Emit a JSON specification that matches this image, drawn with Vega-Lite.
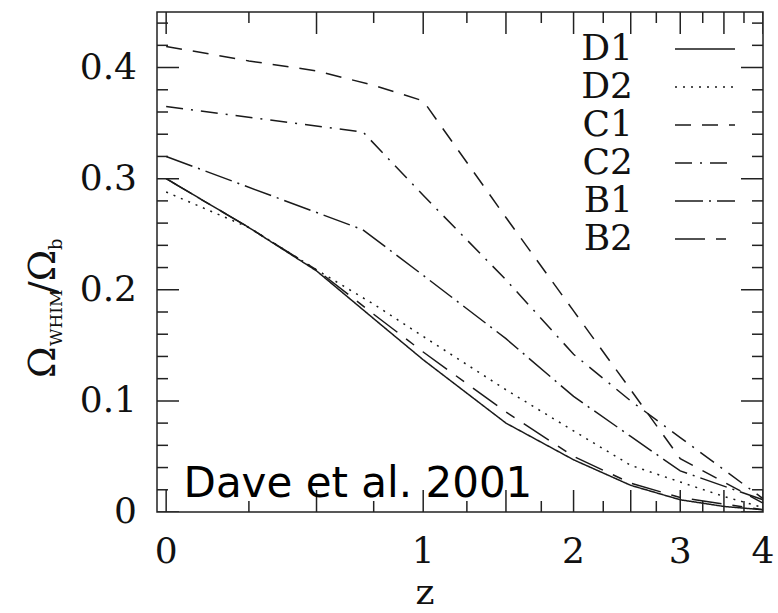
{
  "$schema": "https://vega.github.io/schema/vega-lite/v6.json",
  "width": 606,
  "height": 500,
  "autosize": {"type": "none"},
  "padding": {"left": 157, "top": 12, "right": 15, "bottom": 101},
  "background": "white",
  "config": {
    "view": {"stroke": "#222", "strokeWidth": 1.5}
  },
  "datasets": {
    "xmajor": [{"t": 0}, {"t": 0.5}, {"t": 1}, {"t": 1.5}, {"t": 2}, {"t": 2.5}, {"t": 3}, {"t": 3.5}, {"t": 4}],
    "xminor": [{"t": 0.25}, {"t": 0.75}, {"t": 1.25}, {"t": 1.75}, {"t": 2.25}, {"t": 2.75}, {"t": 3.25}, {"t": 3.75}],
    "ymajor": [{"t": 0}, {"t": 0.1}, {"t": 0.2}, {"t": 0.3}, {"t": 0.4}],
    "yminor": [{"t": 0.02}, {"t": 0.04}, {"t": 0.06}, {"t": 0.08}, {"t": 0.12}, {"t": 0.14}, {"t": 0.16}, {"t": 0.18},
               {"t": 0.22}, {"t": 0.24}, {"t": 0.26}, {"t": 0.28}, {"t": 0.32}, {"t": 0.34}, {"t": 0.36}, {"t": 0.38},
               {"t": 0.42}, {"t": 0.44}]
  },
  "data": {
    "values": [
      {"model": "D1", "z": 0, "f": 0.300}, {"model": "D1", "z": 0.25, "f": 0.256}, {"model": "D1", "z": 0.5, "f": 0.217},
      {"model": "D1", "z": 0.75, "f": 0.174}, {"model": "D1", "z": 1, "f": 0.137}, {"model": "D1", "z": 1.5, "f": 0.080},
      {"model": "D1", "z": 2, "f": 0.047}, {"model": "D1", "z": 2.5, "f": 0.024}, {"model": "D1", "z": 3, "f": 0.011},
      {"model": "D1", "z": 3.5, "f": 0.005}, {"model": "D1", "z": 4, "f": 0.002},
      {"model": "D2", "z": 0, "f": 0.288}, {"model": "D2", "z": 0.25, "f": 0.256}, {"model": "D2", "z": 0.5, "f": 0.218},
      {"model": "D2", "z": 0.75, "f": 0.187}, {"model": "D2", "z": 1, "f": 0.158}, {"model": "D2", "z": 1.5, "f": 0.110},
      {"model": "D2", "z": 2, "f": 0.073}, {"model": "D2", "z": 2.5, "f": 0.042}, {"model": "D2", "z": 3, "f": 0.027},
      {"model": "D2", "z": 3.5, "f": 0.014}, {"model": "D2", "z": 4, "f": 0.004},
      {"model": "C1", "z": 0, "f": 0.419}, {"model": "C1", "z": 0.25, "f": 0.406}, {"model": "C1", "z": 0.5, "f": 0.397},
      {"model": "C1", "z": 0.75, "f": 0.384}, {"model": "C1", "z": 1, "f": 0.370}, {"model": "C1", "z": 1.5, "f": 0.265},
      {"model": "C1", "z": 2, "f": 0.181}, {"model": "C1", "z": 2.5, "f": 0.110}, {"model": "C1", "z": 3, "f": 0.048},
      {"model": "C1", "z": 4, "f": 0.008},
      {"model": "C2", "z": 0, "f": 0.365}, {"model": "C2", "z": 0.7, "f": 0.342}, {"model": "C2", "z": 1, "f": 0.285},
      {"model": "C2", "z": 1.5, "f": 0.209}, {"model": "C2", "z": 2, "f": 0.142}, {"model": "C2", "z": 2.5, "f": 0.100},
      {"model": "C2", "z": 3, "f": 0.067}, {"model": "C2", "z": 4, "f": 0.012},
      {"model": "B1", "z": 0, "f": 0.320}, {"model": "B1", "z": 0.7, "f": 0.254}, {"model": "B1", "z": 1, "f": 0.213},
      {"model": "B1", "z": 1.5, "f": 0.156}, {"model": "B1", "z": 2, "f": 0.104}, {"model": "B1", "z": 2.5, "f": 0.068},
      {"model": "B1", "z": 3, "f": 0.037}, {"model": "B1", "z": 4, "f": 0.011},
      {"model": "B2", "z": 0, "f": 0.300}, {"model": "B2", "z": 0.25, "f": 0.256}, {"model": "B2", "z": 0.5, "f": 0.218},
      {"model": "B2", "z": 0.75, "f": 0.178}, {"model": "B2", "z": 1, "f": 0.144}, {"model": "B2", "z": 1.5, "f": 0.090},
      {"model": "B2", "z": 2, "f": 0.050}, {"model": "B2", "z": 2.5, "f": 0.026}, {"model": "B2", "z": 3, "f": 0.013},
      {"model": "B2", "z": 4, "f": 0.002}
    ]
  },
  "layer": [
    {
      "mark": {"type": "line", "stroke": "#1a1a1a", "strokeWidth": 1.5},
      "encoding": {
        "x": {
          "field": "z", "type": "quantitative", "axis": null,
          "scale": {"type": "symlog", "constant": 1, "domain": [-0.025, 4], "nice": false, "zero": false}
        },
        "y": {
          "field": "f", "type": "quantitative", "axis": null,
          "scale": {"domain": [0, 0.45], "nice": false, "zero": false}
        },
        "strokeDash": {
          "field": "model", "type": "nominal",
          "scale": {
            "domain": ["D1", "D2", "C1", "C2", "B1", "B2"],
            "range": [[1, 0], [2, 6], [16, 11], [17, 8, 2, 8], [28, 6, 2, 6], [30, 11, 10, 11]]
          },
          "legend": {
            "orient": "none", "legendX": 530, "legendY": 19, "title": null,
            "symbolType": "M -5 0 L 5 0", "symbolSize": 144, "symbolStrokeWidth": 1.5,
            "symbolStrokeColor": "#1a1a1a", "symbolFillColor": "transparent", "symbolOpacity": 1,
            "rowPadding": 2,
            "labelFont": "DejaVu Serif", "labelFontSize": 36, "labelColor": "#111",
            "labelAlign": "right", "labelOffset": -90
          }
        }
      }
    },
    {
      "data": {"name": "xmajor"},
      "mark": {"type": "tick", "orient": "vertical", "size": 44, "thickness": 1.5, "color": "#222", "opacity": 1, "clip": true},
      "encoding": {
        "x": {"field": "t", "type": "quantitative", "axis": null, "scale": {"type": "symlog", "constant": 1, "domain": [-0.025, 4], "nice": false, "zero": false}},
        "y": {"datum": 0, "type": "quantitative", "axis": null}
      }
    },
    {
      "data": {"name": "xmajor"},
      "mark": {"type": "tick", "orient": "vertical", "size": 44, "thickness": 1.5, "color": "#222", "opacity": 1, "clip": true},
      "encoding": {
        "x": {"field": "t", "type": "quantitative", "axis": null, "scale": {"type": "symlog", "constant": 1, "domain": [-0.025, 4], "nice": false, "zero": false}},
        "y": {"datum": 0.45, "type": "quantitative", "axis": null}
      }
    },
    {
      "data": {"name": "xminor"},
      "mark": {"type": "tick", "orient": "vertical", "size": 22, "thickness": 1.5, "color": "#222", "opacity": 1, "clip": true},
      "encoding": {
        "x": {"field": "t", "type": "quantitative", "axis": null, "scale": {"type": "symlog", "constant": 1, "domain": [-0.025, 4], "nice": false, "zero": false}},
        "y": {"datum": 0, "type": "quantitative", "axis": null}
      }
    },
    {
      "data": {"name": "xminor"},
      "mark": {"type": "tick", "orient": "vertical", "size": 22, "thickness": 1.5, "color": "#222", "opacity": 1, "clip": true},
      "encoding": {
        "x": {"field": "t", "type": "quantitative", "axis": null, "scale": {"type": "symlog", "constant": 1, "domain": [-0.025, 4], "nice": false, "zero": false}},
        "y": {"datum": 0.45, "type": "quantitative", "axis": null}
      }
    },
    {
      "data": {"name": "ymajor"},
      "mark": {"type": "tick", "orient": "horizontal", "size": 44, "thickness": 1.5, "color": "#222", "opacity": 1, "clip": true},
      "encoding": {
        "y": {"field": "t", "type": "quantitative", "axis": null, "scale": {"domain": [0, 0.45], "nice": false, "zero": false}},
        "x": {"datum": -0.025, "type": "quantitative", "axis": null}
      }
    },
    {
      "data": {"name": "ymajor"},
      "mark": {"type": "tick", "orient": "horizontal", "size": 44, "thickness": 1.5, "color": "#222", "opacity": 1, "clip": true},
      "encoding": {
        "y": {"field": "t", "type": "quantitative", "axis": null, "scale": {"domain": [0, 0.45], "nice": false, "zero": false}},
        "x": {"datum": 4, "type": "quantitative", "axis": null}
      }
    },
    {
      "data": {"name": "yminor"},
      "mark": {"type": "tick", "orient": "horizontal", "size": 22, "thickness": 1.5, "color": "#222", "opacity": 1, "clip": true},
      "encoding": {
        "y": {"field": "t", "type": "quantitative", "axis": null, "scale": {"domain": [0, 0.45], "nice": false, "zero": false}},
        "x": {"datum": -0.025, "type": "quantitative", "axis": null}
      }
    },
    {
      "data": {"name": "yminor"},
      "mark": {"type": "tick", "orient": "horizontal", "size": 22, "thickness": 1.5, "color": "#222", "opacity": 1, "clip": true},
      "encoding": {
        "y": {"field": "t", "type": "quantitative", "axis": null, "scale": {"domain": [0, 0.45], "nice": false, "zero": false}},
        "x": {"datum": 4, "type": "quantitative", "axis": null}
      }
    },
    {
      "data": {"name": "xmajor"},
      "transform": [{"filter": "datum.t % 1 === 0"}],
      "mark": {"type": "text", "font": "DejaVu Serif", "fontSize": 36, "align": "center", "baseline": "middle", "color": "#111"},
      "encoding": {
        "x": {"field": "t", "type": "quantitative", "axis": null, "scale": {"type": "symlog", "constant": 1, "domain": [-0.025, 4], "nice": false, "zero": false}},
        "y": {"datum": -0.036, "type": "quantitative", "axis": null},
        "text": {"field": "t", "type": "quantitative", "format": "d"}
      }
    },
    {
      "data": {"name": "ymajor"},
      "mark": {"type": "text", "font": "DejaVu Serif", "fontSize": 36, "align": "right", "baseline": "middle", "color": "#111"},
      "encoding": {
        "y": {"field": "t", "type": "quantitative", "axis": null, "scale": {"domain": [0, 0.45], "nice": false, "zero": false}},
        "x": {"datum": -0.0818, "type": "quantitative", "axis": null},
        "text": {"field": "t", "type": "quantitative", "format": "~g"}
      }
    },
    {
      "data": {"values": [{}]},
      "mark": {"type": "text", "text": "z", "font": "DejaVu Serif", "fontSize": 36, "align": "center", "baseline": "alphabetic", "color": "#111"},
      "encoding": {
        "x": {"datum": 1.0097, "type": "quantitative", "axis": null},
        "y": {"datum": -0.0828, "type": "quantitative", "axis": null}
      }
    },
    {
      "data": {"values": [{}]},
      "mark": {"type": "text", "text": "Dave et al. 2001", "font": "DejaVu Sans", "fontSize": 42, "align": "left", "baseline": "alphabetic", "color": "#000"},
      "encoding": {
        "x": {"datum": 0.048, "type": "quantitative", "axis": null},
        "y": {"datum": 0.0135, "type": "quantitative", "axis": null}
      }
    },
    {
      "data": {"values": [{}]},
      "mark": {"type": "text", "text": "Ω", "font": "DejaVu Serif", "fontSize": 38, "angle": 270, "align": "left", "baseline": "alphabetic", "color": "#111"},
      "encoding": {
        "x": {"datum": -0.3496, "type": "quantitative", "axis": null},
        "y": {"datum": 0.1206, "type": "quantitative", "axis": null}
      }
    },
    {
      "data": {"values": [{}]},
      "mark": {"type": "text", "text": "WHIM", "font": "DejaVu Serif", "fontSize": 17, "angle": 270, "align": "left", "baseline": "alphabetic", "color": "#111"},
      "encoding": {
        "x": {"datum": -0.3243, "type": "quantitative", "axis": null},
        "y": {"datum": 0.1494, "type": "quantitative", "axis": null}
      }
    },
    {
      "data": {"values": [{}]},
      "mark": {"type": "text", "text": "/Ω", "font": "DejaVu Serif", "fontSize": 38, "angle": 270, "align": "left", "baseline": "alphabetic", "color": "#111"},
      "encoding": {
        "x": {"datum": -0.3496, "type": "quantitative", "axis": null},
        "y": {"datum": 0.1962, "type": "quantitative", "axis": null}
      }
    },
    {
      "data": {"values": [{}]},
      "mark": {"type": "text", "text": "b", "font": "DejaVu Serif", "fontSize": 18, "angle": 270, "align": "left", "baseline": "alphabetic", "color": "#111"},
      "encoding": {
        "x": {"datum": -0.3243, "type": "quantitative", "axis": null},
        "y": {"datum": 0.2358, "type": "quantitative", "axis": null}
      }
    }
  ]
}
